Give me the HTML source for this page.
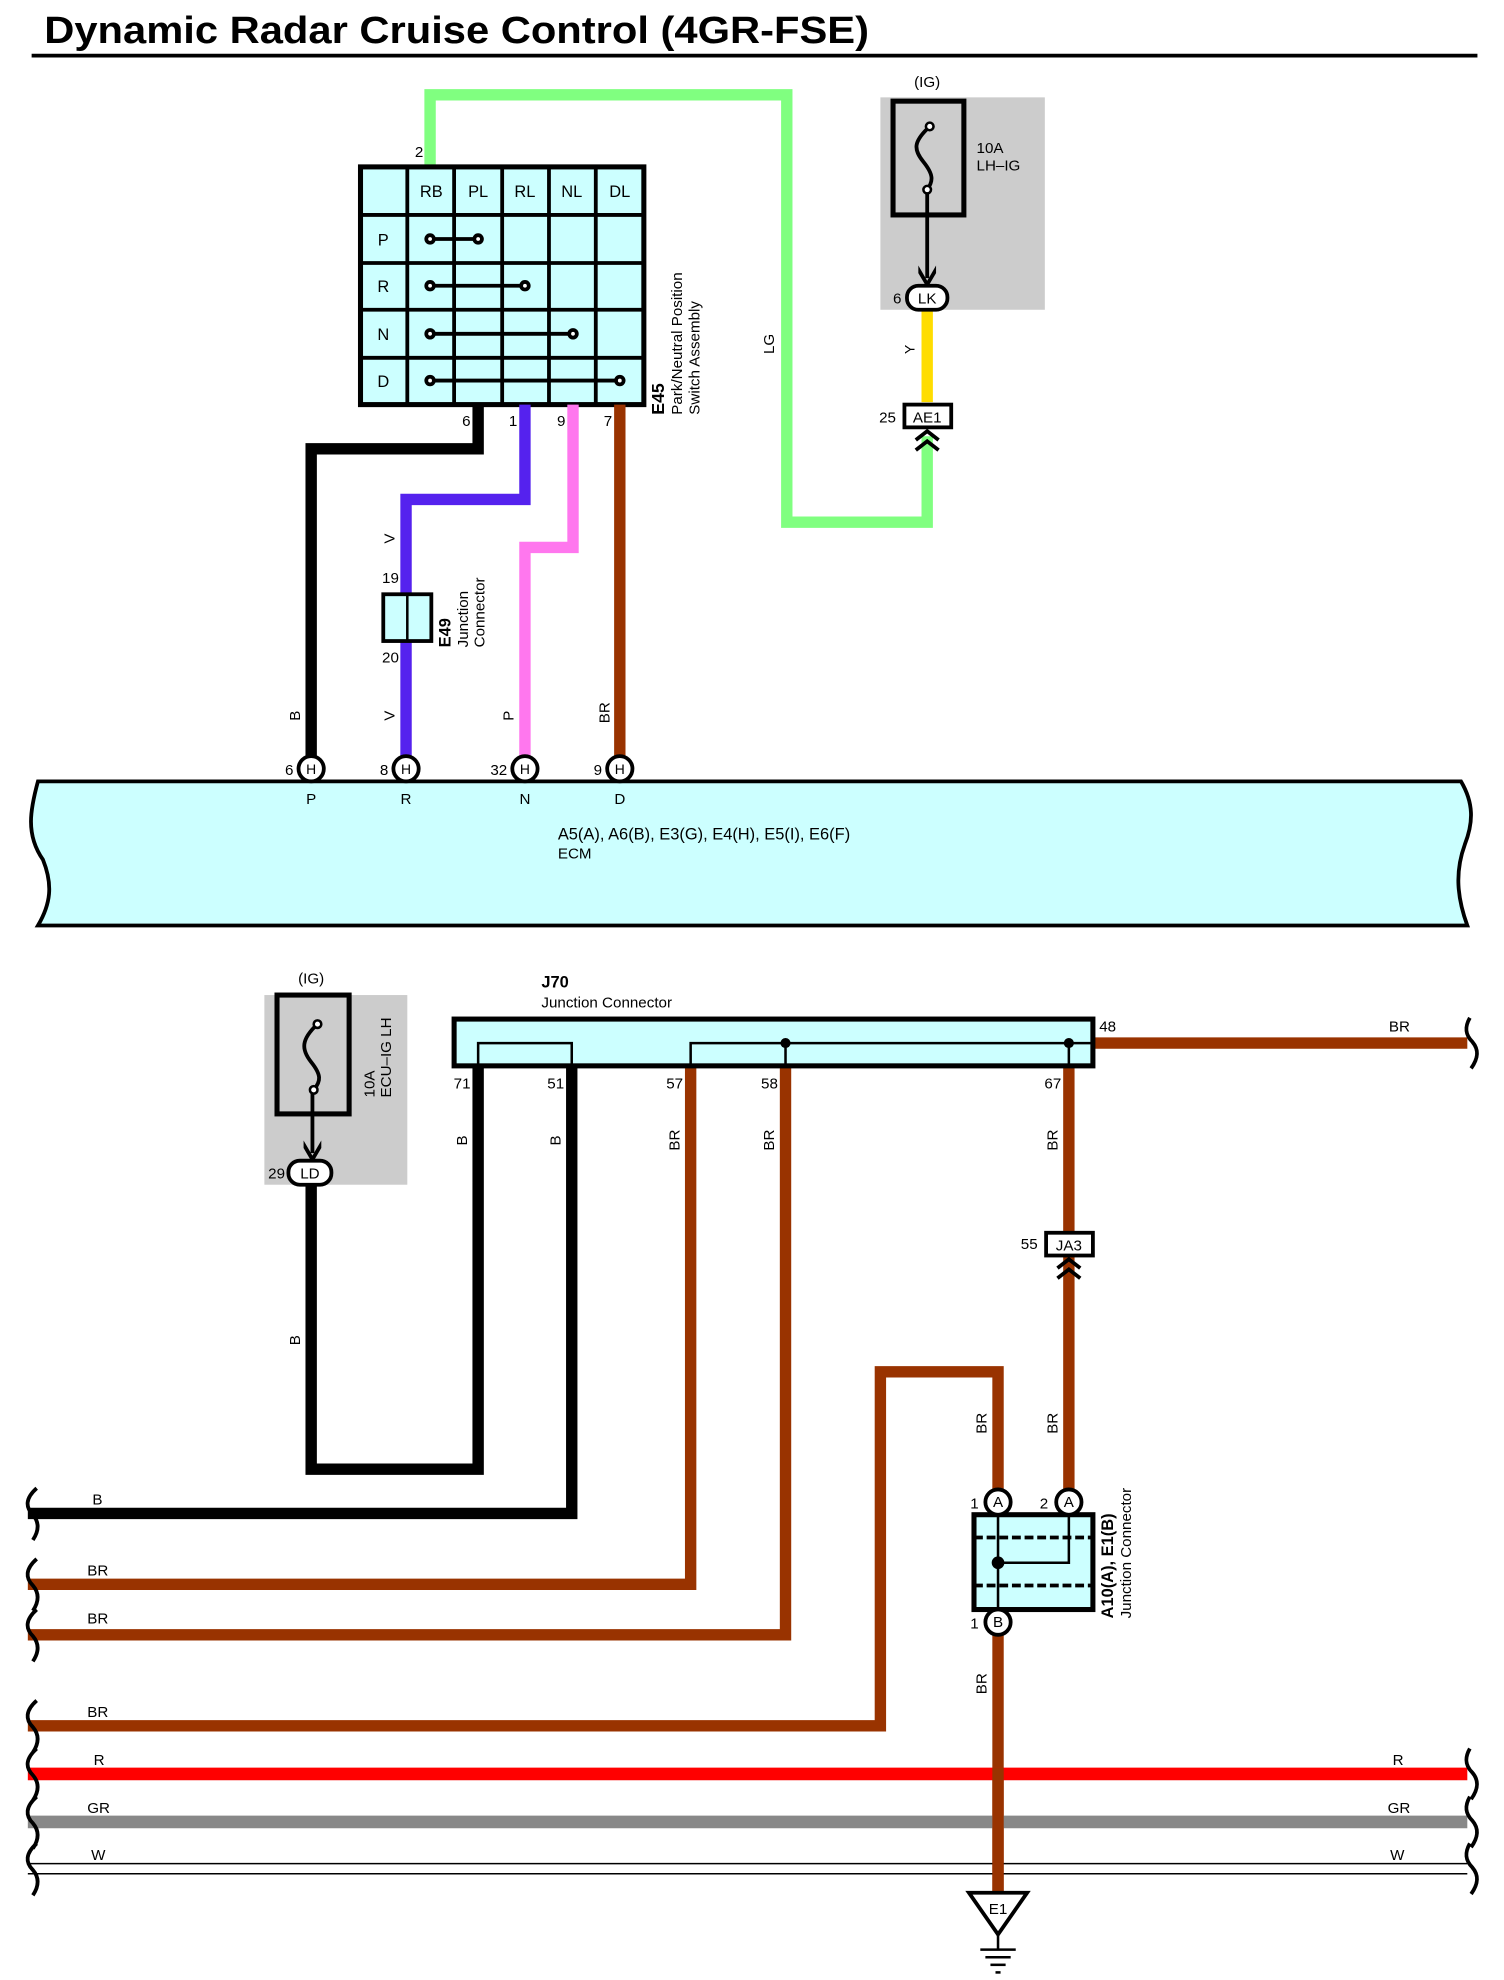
<!DOCTYPE html>
<html><head><meta charset="utf-8"><style>
html,body{margin:0;padding:0;background:#fff;}
svg{display:block;}
text{font-family:"Liberation Sans",sans-serif;fill:#000;}
</style></head><body>
<svg width="1504" height="1980" viewBox="0 0 1189 1566" preserveAspectRatio="none" xmlns="http://www.w3.org/2000/svg">
<rect width="1189" height="1566" fill="#fff"/>
<text x="35" y="34" font-size="30" font-weight="bold" textLength="652" lengthAdjust="spacingAndGlyphs">Dynamic Radar Cruise Control (4GR-FSE)</text>
<line x1="25" y1="44" x2="1168" y2="44" stroke="#000" stroke-width="3"/>

<!-- LG wire -->
<path d="M340 132 V75 H622 V413 H733 V345" fill="none" stroke="#80ff80" stroke-width="9"/>
<text x="328" y="124" font-size="12">2</text>
<text x="612" y="280" font-size="12" transform="rotate(-90 612 280)">LG</text>

<!-- E45 box -->
<rect x="285" y="132" width="224" height="188" fill="#ccffff" stroke="#000" stroke-width="4"/>
<g stroke="#000" stroke-width="3">
<line x1="322" y1="132" x2="322" y2="320"/><line x1="359" y1="132" x2="359" y2="320"/>
<line x1="397" y1="132" x2="397" y2="320"/><line x1="434" y1="132" x2="434" y2="320"/>
<line x1="471" y1="132" x2="471" y2="320"/>
<line x1="285" y1="170" x2="509" y2="170"/><line x1="285" y1="208" x2="509" y2="208"/>
<line x1="285" y1="245" x2="509" y2="245"/><line x1="285" y1="283" x2="509" y2="283"/>
</g>
<g font-size="13" text-anchor="middle">
<text x="341" y="156">RB</text><text x="378" y="156">PL</text><text x="415" y="156">RL</text><text x="452" y="156">NL</text><text x="490" y="156">DL</text>
<text x="303" y="194">P</text><text x="303" y="231">R</text><text x="303" y="269">N</text><text x="303" y="306">D</text>
</g>
<g stroke="#000" stroke-width="3" fill="#fff">
<line x1="340" y1="189" x2="378" y2="189"/><line x1="340" y1="226" x2="415" y2="226"/>
<line x1="340" y1="264" x2="453" y2="264"/><line x1="340" y1="301" x2="490" y2="301"/>
<circle cx="340" cy="189" r="3"/><circle cx="378" cy="189" r="3"/>
<circle cx="340" cy="226" r="3"/><circle cx="415" cy="226" r="3"/>
<circle cx="340" cy="264" r="3"/><circle cx="453" cy="264" r="3"/>
<circle cx="340" cy="301" r="3"/><circle cx="490" cy="301" r="3"/>
</g>
<g transform="rotate(-90 525 328)">
<text x="525" y="328" font-size="14" font-weight="bold">E45</text>
<text x="525" y="342" font-size="12" dx="0">Park/Neutral Position</text>
<text x="525" y="356" font-size="12">Switch  Assembly</text>
</g>
<g font-size="12" text-anchor="end">
<text x="372" y="337">6</text><text x="409" y="337">1</text><text x="447" y="337">9</text><text x="484" y="337">7</text>
</g>

<!-- E45 lower wires -->
<path d="M378 320 V355 H246 V598" fill="none" stroke="#000" stroke-width="9"/>
<path d="M415 320 V395 H321 V598" fill="none" stroke="#5522ee" stroke-width="9"/>
<path d="M453 320 V433 H415 V598" fill="none" stroke="#ff77ee" stroke-width="9"/>
<path d="M490 320 V598" fill="none" stroke="#993300" stroke-width="9"/>
<!-- E49 -->
<rect x="303" y="470" width="38" height="37" fill="#ccffff" stroke="#000" stroke-width="3"/>
<line x1="322" y1="470" x2="322" y2="507" stroke="#000" stroke-width="2"/>
<text x="302" y="461" font-size="12">19</text><text x="302" y="524" font-size="12">20</text>
<g transform="rotate(-90 356 512)">
<text x="356" y="512" font-size="13" font-weight="bold">E49</text>
<text x="356" y="526" font-size="12">Junction</text>
<text x="356" y="539" font-size="12">Connector</text>
</g>
<g font-size="12">
<text x="312" y="430" transform="rotate(-90 312 430)">V</text>
<text x="312" y="570" transform="rotate(-90 312 570)">V</text>
<text x="237" y="570" transform="rotate(-90 237 570)">B</text>
<text x="406" y="570" transform="rotate(-90 406 570)">P</text>
<text x="482" y="572" transform="rotate(-90 482 572)">BR</text>
</g>

<!-- fuse LH-IG -->
<rect x="696" y="77" width="130" height="168" fill="#cccccc"/>
<text x="733" y="69" font-size="12" text-anchor="middle">(IG)</text>
<rect x="706" y="80" width="56" height="90" fill="none" stroke="#000" stroke-width="4"/>
<path d="M735 100 C722 112,722 118,730 128 C738 138,738 143,733 150" fill="none" stroke="#000" stroke-width="3"/>
<circle cx="735" cy="100" r="3" fill="#fff" stroke="#000" stroke-width="2"/>
<circle cx="733" cy="150" r="3" fill="#fff" stroke="#000" stroke-width="2"/>
<line x1="733" y1="153" x2="733" y2="220" stroke="#000" stroke-width="3"/>
<path d="M726 210 L733 222 L740 210 L740 216 L733 228 L726 216Z" fill="#000"/>
<text x="772" y="121" font-size="12">10A</text><text x="772" y="135" font-size="12">LH–IG</text>
<line x1="733" y1="245" x2="733" y2="318" stroke="#ffdd00" stroke-width="9"/>
<rect x="717" y="226" width="32" height="19" rx="9" fill="#fff" stroke="#000" stroke-width="3"/>
<text x="733" y="240" font-size="12" text-anchor="middle">LK</text>
<text x="706" y="240" font-size="12">6</text>
<text x="723" y="280" font-size="11" transform="rotate(-90 723 280)">Y</text>
<rect x="715" y="320" width="37" height="18" fill="#fff" stroke="#000" stroke-width="3"/>
<text x="733" y="334" font-size="12" text-anchor="middle">AE1</text>
<text x="695" y="334" font-size="12">25</text>
<path d="M724 348 L733 341 L742 348 M724 356 L733 349 L742 356" fill="none" stroke="#000" stroke-width="3"/>

<!-- ECM -->
<path d="M30 618 H1155 C1165 635,1165 650,1158 668 C1150 690,1152 710,1160 732 H30 C40 715,42 700,34 680 C20 660,24 640,30 618Z" fill="#ccffff" stroke="#000" stroke-width="3"/>
<g stroke="#000" stroke-width="3" fill="#fff">
<circle cx="246" cy="608" r="10"/><circle cx="321" cy="608" r="10"/><circle cx="415" cy="608" r="10"/><circle cx="490" cy="608" r="10"/>
</g>
<g font-size="11" text-anchor="middle">
<text x="246" y="612">H</text><text x="321" y="612">H</text><text x="415" y="612">H</text><text x="490" y="612">H</text>
</g>
<g font-size="12" text-anchor="end">
<text x="232" y="613">6</text><text x="307" y="613">8</text><text x="401" y="613">32</text><text x="476" y="613">9</text>
</g>
<g font-size="12" text-anchor="middle">
<text x="246" y="636">P</text><text x="321" y="636">R</text><text x="415" y="636">N</text><text x="490" y="636">D</text>
</g>
<text x="441" y="664" font-size="13">A5(A), A6(B), E3(G), E4(H), E5(I), E6(F)</text>
<text x="441" y="679" font-size="12">ECM</text>

<!-- Bottom fuse ECU-IG LH -->
<rect x="209" y="787" width="113" height="150" fill="#cccccc"/>
<text x="246" y="778" font-size="12" text-anchor="middle">(IG)</text>
<rect x="219" y="787" width="57" height="94" fill="none" stroke="#000" stroke-width="4"/>
<path d="M251 810 C238 822,238 830,246 840 C254 850,254 855,248 862" fill="none" stroke="#000" stroke-width="3"/>
<circle cx="251" cy="810" r="3" fill="#fff" stroke="#000" stroke-width="2"/>
<circle cx="248" cy="862" r="3" fill="#fff" stroke="#000" stroke-width="2"/>
<line x1="247" y1="865" x2="247" y2="912" stroke="#000" stroke-width="3"/>
<path d="M240 902 L247 914 L254 902 L254 908 L247 920 L240 908Z" fill="#000"/>
<g transform="rotate(-90 296 868)"><text x="296" y="868" font-size="12">10A</text><text x="296" y="881" font-size="12">ECU–IG LH</text></g>

<!-- J70 wires -->
<path d="M246 935 V1162 H378 V843" fill="none" stroke="#000" stroke-width="9"/>
<path d="M452 843 V1197 H22" fill="none" stroke="#000" stroke-width="9"/>
<path d="M546 843 V1253 H22" fill="none" stroke="#993300" stroke-width="9"/>
<path d="M621 843 V1293 H22" fill="none" stroke="#993300" stroke-width="9"/>
<path d="M845 843 V1178" fill="none" stroke="#993300" stroke-width="9"/>
<path d="M789 1188 V1085 H696 V1365 H22" fill="none" stroke="#993300" stroke-width="9"/>
<path d="M789 1283 V1497" fill="none" stroke="#993300" stroke-width="9"/>
<path d="M864 825 H1160" fill="none" stroke="#993300" stroke-width="9"/>

<rect x="228" y="918" width="34" height="19" rx="9" fill="#fff" stroke="#000" stroke-width="3"/>
<text x="245" y="932" font-size="12" text-anchor="middle">LD</text>
<text x="212" y="932" font-size="12">29</text>

<rect x="359" y="806" width="505" height="37" fill="#ccffff" stroke="#000" stroke-width="4"/>
<path d="M378 843 V825 H452 V843 M546 843 V825 H864 M621 825 V843 M845 825 V843" fill="none" stroke="#000" stroke-width="2"/>
<circle cx="621" cy="825" r="4" fill="#000"/><circle cx="845" cy="825" r="4" fill="#000"/>
<text x="428" y="781" font-size="13" font-weight="bold">J70</text>
<text x="428" y="797" font-size="12">Junction  Connector</text>
<g font-size="12" text-anchor="end">
<text x="372" y="861">71</text><text x="446" y="861">51</text><text x="540" y="861">57</text><text x="615" y="861">58</text><text x="839" y="861">67</text>
</g>
<text x="869" y="816" font-size="12">48</text>
<text x="1098" y="816" font-size="12">BR</text>

<g font-size="12">
<text x="369" y="906" transform="rotate(-90 369 906)">B</text>
<text x="443" y="906" transform="rotate(-90 443 906)">B</text>
<text x="537" y="910" transform="rotate(-90 537 910)">BR</text>
<text x="612" y="910" transform="rotate(-90 612 910)">BR</text>
<text x="836" y="910" transform="rotate(-90 836 910)">BR</text>
<text x="237" y="1064" transform="rotate(-90 237 1064)">B</text>
<text x="780" y="1134" transform="rotate(-90 780 1134)">BR</text>
<text x="836" y="1134" transform="rotate(-90 836 1134)">BR</text>
<text x="780" y="1340" transform="rotate(-90 780 1340)">BR</text>
</g>

<!-- JA3 -->
<rect x="827" y="975" width="37" height="18" fill="#fff" stroke="#000" stroke-width="3"/>
<text x="845" y="989" font-size="12" text-anchor="middle">JA3</text>
<text x="807" y="988" font-size="12">55</text>
<path d="M836 1003 L845 996 L854 1003 M836 1011 L845 1004 L854 1011" fill="none" stroke="#000" stroke-width="3"/>

<!-- junction connector A10/E1 -->
<rect x="770" y="1198" width="94" height="75" fill="#ccffff" stroke="#000" stroke-width="4"/>
<line x1="770" y1="1216" x2="864" y2="1216" stroke="#000" stroke-width="3" stroke-dasharray="7,3"/>
<line x1="770" y1="1254" x2="864" y2="1254" stroke="#000" stroke-width="3" stroke-dasharray="7,3"/>
<path d="M789 1188 V1283 M789 1236 H845 V1188" fill="none" stroke="#000" stroke-width="2"/>
<circle cx="789" cy="1236" r="5" fill="#000"/>
<g stroke="#000" stroke-width="3" fill="#fff">
<circle cx="789" cy="1188" r="10"/><circle cx="845" cy="1188" r="10"/><circle cx="789" cy="1283" r="10"/>
</g>
<g font-size="12" text-anchor="middle"><text x="789" y="1192">A</text><text x="845" y="1192">A</text><text x="789" y="1287">B</text></g>
<text x="767" y="1193" font-size="12">1</text><text x="822" y="1193" font-size="12">2</text><text x="767" y="1288" font-size="12">1</text>
<g transform="rotate(-90 880 1280)"><text x="880" y="1280" font-size="13" font-weight="bold">A10(A), E1(B)</text><text x="880" y="1294" font-size="12">Junction Connector</text></g>

<!-- horizontal bus wires -->
<line x1="22" y1="1403" x2="1160" y2="1403" stroke="#ff0000" stroke-width="10"/>
<line x1="22" y1="1441" x2="1160" y2="1441" stroke="#888888" stroke-width="10"/>
<line x1="22" y1="1474" x2="1160" y2="1474" stroke="#000" stroke-width="1.2"/>
<line x1="22" y1="1482" x2="1160" y2="1482" stroke="#000" stroke-width="1.2"/>
<line x1="789" y1="1398" x2="789" y2="1497" stroke="#993300" stroke-width="9"/>
<g font-size="12">
<text x="73" y="1190">B</text><text x="69" y="1246">BR</text><text x="69" y="1284">BR</text><text x="69" y="1358">BR</text>
<text x="74" y="1396">R</text><text x="69" y="1434">GR</text><text x="72" y="1471">W</text>
<text x="1101" y="1396">R</text><text x="1097" y="1434">GR</text><text x="1099" y="1471">W</text>
</g>
<!-- break squiggles -->
<g fill="none" stroke="#000" stroke-width="3">
<path d="M29 1177 C20 1185,20 1192,26 1198 C32 1205,30 1212,26 1218"/>
<path d="M29 1233 C20 1241,20 1248,26 1254 C32 1261,30 1268,26 1274"/>
<path d="M29 1273 C20 1281,20 1288,26 1294 C32 1301,30 1308,26 1314"/>
<path d="M29 1345 C20 1353,20 1360,26 1366 C32 1373,30 1380,26 1386"/>
<path d="M29 1383 C20 1391,20 1398,26 1404 C32 1411,30 1418,26 1424"/>
<path d="M29 1421 C20 1429,20 1436,26 1442 C32 1449,30 1456,26 1462"/>
<path d="M29 1458 C20 1466,20 1473,26 1479 C32 1486,30 1493,26 1499"/>
<path d="M1162 805 C1158 812,1158 818,1164 824 C1170 831,1168 838,1163 845"/>
<path d="M1162 1383 C1158 1390,1158 1396,1164 1402 C1170 1409,1168 1416,1163 1423"/>
<path d="M1162 1421 C1158 1428,1158 1434,1164 1440 C1170 1447,1168 1454,1163 1461"/>
<path d="M1162 1458 C1158 1465,1158 1471,1164 1477 C1170 1484,1168 1491,1163 1498"/>
</g>

<!-- ground -->
<path d="M766 1497 H812 L789 1530Z" fill="#fff" stroke="#000" stroke-width="3"/>
<text x="789" y="1514" font-size="12" text-anchor="middle">E1</text>
<g stroke="#000" stroke-width="2">
<line x1="789" y1="1530" x2="789" y2="1542"/>
<line x1="775" y1="1542" x2="803" y2="1542"/>
<line x1="779" y1="1548" x2="799" y2="1548"/>
<line x1="783" y1="1554" x2="795" y2="1554"/>
<line x1="787" y1="1560" x2="791" y2="1560"/>
</g>
</svg>
</body></html>
